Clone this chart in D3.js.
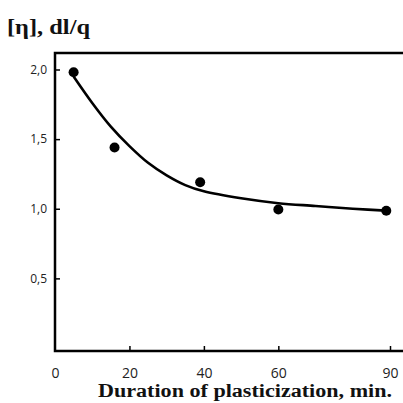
<!DOCTYPE html>
<html><head><meta charset="utf-8">
<script src="https://cdn.jsdelivr.net/npm/d3@7"></script>
<style>
html,body{margin:0;padding:0;background:#fff;}
svg{display:block;}
</style></head>
<body>
<script>
// Data
const times = [5, 16, 39, 60, 89];
const viscosity = [1.98, 1.44, 1.19, 0.995, 0.985];
const fitTimes = [5, 10, 15, 20, 25, 30, 35, 40, 50, 60, 70, 80, 90];
const fitValues = [1.95, 1.76, 1.59, 1.45, 1.33, 1.24, 1.17, 1.125, 1.075, 1.04, 1.02, 1.00, 0.985];
const xTickValues = [0, 20, 40, 60, 90];
const yTickValues = [0.5, 1.0, 1.5, 2.0];
const yTitle = "[η], dl/q";
const xTitle = "Duration of plasticization, min.";

const W = 403, H = 403;
const mLeft = 55, mTop = 53, mRight = 403, mBottom = 351;

const svg = d3.select("body").append("svg").attr("width", W).attr("height", H);

const x = d3.scaleLinear().domain([0, 90]).range([55, 390]);
const y = d3.scaleLinear().domain([0, 2]).range([348, 69.5]);

const fmt = v => d3.format(".1f")(v).replace(".", ",");

// Y axis ticks (inward)
const yAxis = svg.append("g").attr("transform", `translate(${mLeft},0)`)
  .call(d3.axisLeft(y).tickValues(yTickValues).tickSize(-5).tickPadding(8).tickFormat(fmt));
yAxis.select(".domain").remove();
yAxis.selectAll(".tick line").attr("stroke", "#000").attr("stroke-width", 1.5);
yAxis.selectAll(".tick text").attr("font-family", "Open Sans, sans-serif").attr("font-size", 12).attr("fill", "#222");

// X axis ticks (inward)
const xAxis = svg.append("g").attr("transform", `translate(0,${mBottom})`)
  .call(d3.axisBottom(x).tickValues(xTickValues).tickSize(-5).tickPadding(0).tickFormat(d3.format("d")));
xAxis.select(".domain").remove();
xAxis.selectAll(".tick line").attr("stroke", "#000").attr("stroke-width", 1.5)
  .attr("opacity", d => d === 0 ? 0 : 1);
xAxis.selectAll(".tick text").attr("font-family", "Open Sans, sans-serif").attr("font-size", 14)
  .attr("fill", "#222").attr("dy", null).attr("y", 27);

// Frame: left, top, bottom
svg.append("path")
  .attr("d", `M${mRight},${mTop}H${mLeft}V${mBottom}H${mRight}`)
  .attr("fill", "none").attr("stroke", "#000").attr("stroke-width", 2.5);

// Fitted curve
const line = d3.line().x((d, i) => x(fitTimes[i])).y(d => y(d)).curve(d3.curveCatmullRom.alpha(0.5));
svg.append("path").datum(fitValues).attr("d", line)
  .attr("fill", "none").attr("stroke", "#000").attr("stroke-width", 2.6);

// Points
svg.selectAll("circle.pt").data(viscosity).enter().append("circle")
  .attr("class", "pt")
  .attr("cx", (d, i) => x(times[i])).attr("cy", d => y(d)).attr("r", 5).attr("fill", "#000");

// Titles
svg.append("text").attr("x", 7).attr("y", 34).text(yTitle)
  .attr("font-family", "Liberation Serif, serif").attr("font-weight", "bold").attr("font-size", 20)
  .attr("textLength", 83).attr("lengthAdjust", "spacingAndGlyphs").attr("fill", "#111");
svg.append("text").attr("x", 98).attr("y", 397).text(xTitle)
  .attr("font-family", "Liberation Serif, serif").attr("font-weight", "bold").attr("font-size", 18.5)
  .attr("textLength", 294).attr("lengthAdjust", "spacingAndGlyphs").attr("fill", "#111");
</script>
</body></html>
